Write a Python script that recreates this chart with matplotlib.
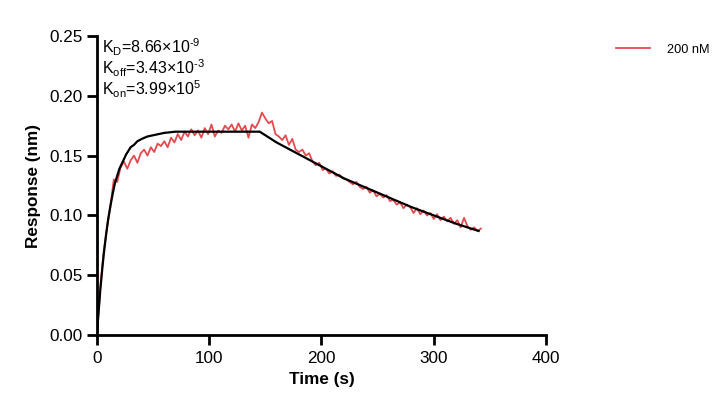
import matplotlib
matplotlib.use("Agg")
import matplotlib.pyplot as plt
from matplotlib.ticker import FormatStrFormatter

plt.rcParams['font.family'] = ['Liberation Sans', 'DejaVu Sans']
plt.rcParams['mathtext.fontset'] = 'custom'
plt.rcParams['mathtext.rm'] = 'Liberation Sans'
plt.rcParams['mathtext.it'] = 'Liberation Sans'

# measured sensorgram (200 nM), sampled every 3 s
data_time = list(range(0, 343, 3))
data_resp = [0.0, 0.04, 0.07, 0.09, 0.108, 0.13, 0.128, 0.14, 0.145, 0.139, 0.146, 0.15, 0.144, 0.152, 0.155,
             0.15, 0.157, 0.153, 0.16, 0.158, 0.162, 0.157, 0.165, 0.161, 0.168, 0.163, 0.17, 0.166, 0.172, 0.167, 0.171, 0.165, 0.173, 0.168,
             0.176, 0.166, 0.171, 0.169, 0.175, 0.172, 0.176, 0.17, 0.177, 0.171, 0.175, 0.165, 0.176, 0.173, 0.178,
             0.186, 0.181, 0.177, 0.179, 0.168, 0.166, 0.163, 0.167, 0.159, 0.164, 0.155, 0.153, 0.155, 0.15, 0.152, 0.145, 0.142, 0.144, 0.138,
             0.139, 0.135, 0.137, 0.133, 0.134, 0.131, 0.13, 0.128, 0.126, 0.128, 0.124, 0.122, 0.124, 0.119, 0.121, 0.116, 0.118, 0.115, 0.117,
             0.112, 0.113, 0.109, 0.111, 0.106, 0.109, 0.107, 0.102, 0.106, 0.101, 0.104, 0.1, 0.102, 0.097, 0.101,
             0.096, 0.099, 0.095, 0.098, 0.093, 0.096, 0.09, 0.098, 0.091, 0.088, 0.09, 0.087, 0.089]

# fitted curve
fit_time = [0, 1, 2, 3, 4, 5, 6, 7, 8, 9, 10, 12, 14, 16, 18, 20, 22, 24, 26, 28, 30, 33, 36, 40, 45, 50, 55, 60, 65,
            70, 100, 120, 145,
            160, 180, 200, 220, 240, 260, 280, 300, 320, 340]
fit_resp = [0.0, 0.014, 0.026, 0.038, 0.048, 0.058, 0.067, 0.075, 0.083, 0.090, 0.097, 0.108, 0.118, 0.127,
            0.133, 0.139, 0.143, 0.147, 0.151, 0.154, 0.157, 0.159, 0.162, 0.164, 0.166, 0.167, 0.168, 0.169, 0.1695,
            0.170, 0.170, 0.170, 0.170,
            0.161, 0.151, 0.141, 0.131, 0.123, 0.115, 0.107, 0.100, 0.093, 0.087]

series_label = "200 nM"
x_ticks = [0, 100, 200, 300, 400]
y_ticks = [0.00, 0.05, 0.10, 0.15, 0.20, 0.25]
annot = ["$\\mathregular{K_D}$=8.66×10$^{\\mathregular{‐9}}$",
         "$\\mathregular{K_{off}}$=3.43×10$^{\\mathregular{‐3}}$",
         "$\\mathregular{K_{on}}$=3.99×10$^{\\mathregular{5}}$"]

fig = plt.figure(figsize=(7.28, 4.12), dpi=100)
ax = fig.add_axes([0.1332, 0.1869, 0.6168, 0.7257])

ax.plot(data_time, data_resp, color='#E34A4F', lw=1.3, label=series_label, zorder=2)
ax.plot(fit_time, fit_resp, color='black', lw=1.6, zorder=3)

ax.set_xlim(0, 400)
ax.set_ylim(0, 0.25)
ax.set_xticks(x_ticks)
ax.set_yticks(y_ticks)
ax.yaxis.set_major_formatter(FormatStrFormatter('%.2f'))
for s in ['top', 'right']:
    ax.spines[s].set_visible(False)
for s in ['left', 'bottom']:
    ax.spines[s].set_linewidth(2)
ax.tick_params(axis='both', width=2, length=7.5, labelsize=12.3, direction='out', pad=3)
ax.tick_params(axis='x', pad=4)

ax.set_xlabel('Time (s)', fontsize=12.3, fontweight='bold', labelpad=4)
ax.set_ylabel('Response (nm)', fontsize=12.3, fontweight='bold', labelpad=6)

for i, t in enumerate(annot):
    ax.text(0.012, 0.998 - i * 0.071, t, transform=ax.transAxes, fontsize=11.5, va='top', ha='left')

ax.legend(loc='upper left', bbox_to_anchor=(1.13, 1.012), frameon=False, fontsize=9.2,
          handlelength=2.7, handletextpad=1.3)

fig.savefig('out.png', dpi=100)
